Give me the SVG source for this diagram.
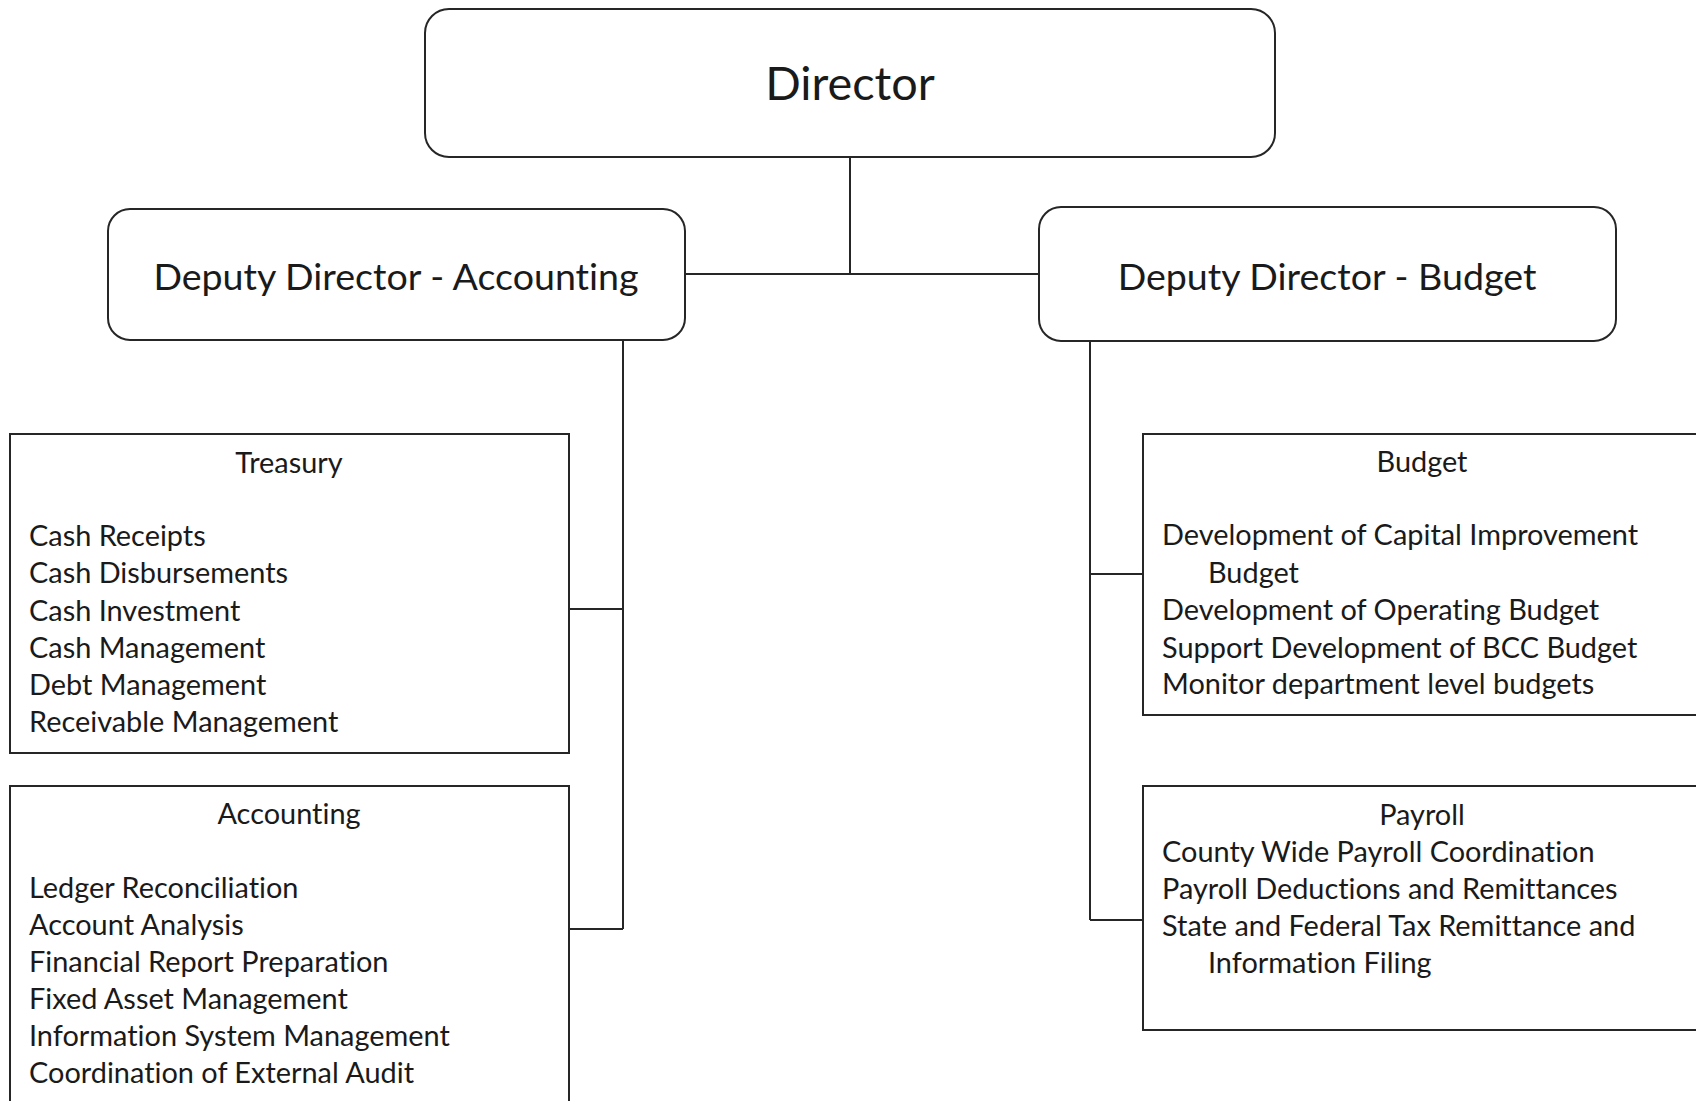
<svg xmlns="http://www.w3.org/2000/svg" width="1696" height="1101" viewBox="0 0 1696 1101">
<style>
.box{fill:#fff;stroke:#262626;stroke-width:2}
.conn line{stroke:#262626;stroke-width:2}
text{font-family:Lato,"Liberation Sans",sans-serif;fill:#1a1a1a;font-variant-ligatures:none;font-feature-settings:"liga" 0}
.body{font-size:28.9px}
.mid{text-anchor:middle}
.dd{font-size:37.6px}
.dir{font-size:46.8px}
</style>
<rect width="1696" height="1101" fill="#fff"/>
<g class="conn" id="connectors">
<line x1="850" y1="157" x2="850" y2="274"/>
<line x1="685" y1="274" x2="1039" y2="274"/>
<line x1="623" y1="340" x2="623" y2="929"/>
<line x1="569" y1="609" x2="623" y2="609"/>
<line x1="569" y1="929" x2="623" y2="929"/>
<line x1="1090" y1="341" x2="1090" y2="920"/>
<line x1="1090" y1="574" x2="1143" y2="574"/>
<line x1="1090" y1="920" x2="1143" y2="920"/>
</g>
<g id="director">
<rect class="box" x="425" y="9" width="850" height="148" rx="24"/>
<text class="dir mid" x="850" y="100">Director</text>
</g>
<g id="dd-accounting">
<rect class="box" x="108" y="209" width="577" height="131" rx="22"/>
<text class="dd mid" x="396" y="290">Deputy Director - Accounting</text>
</g>
<g id="dd-budget">
<rect class="box" x="1039" y="207" width="577" height="134" rx="22"/>
<text class="dd mid" x="1327" y="290">Deputy Director - Budget</text>
</g>
<g id="treasury">
<rect class="box" x="10" y="434" width="559" height="319"/>
<text class="body mid" x="289" y="473">Treasury</text>
<text class="body" x="29" y="546">Cash Receipts</text>
<text class="body" x="29" y="583">Cash Disbursements</text>
<text class="body" x="29" y="621">Cash Investment</text>
<text class="body" x="29" y="658">Cash Management</text>
<text class="body" x="29" y="695">Debt Management</text>
<text class="body" x="29" y="732">Receivable Management</text>
</g>
<g id="accounting">
<rect class="box" x="10" y="786" width="559" height="330"/>
<text class="body mid" x="289" y="824">Accounting</text>
<text class="body" x="29" y="898">Ledger Reconciliation</text>
<text class="body" x="29" y="935">Account Analysis</text>
<text class="body" x="29" y="972">Financial Report Preparation</text>
<text class="body" x="29" y="1009">Fixed Asset Management</text>
<text class="body" x="29" y="1046">Information System Management</text>
<text class="body" x="29" y="1083">Coordination of External Audit</text>
</g>
<g id="budget">
<rect class="box" x="1143" y="434" width="570" height="281"/>
<text class="body mid" x="1422" y="472">Budget</text>
<text class="body" x="1162" y="545">Development of Capital Improvement</text>
<text class="body" x="1208" y="583">Budget</text>
<text class="body" x="1162" y="620">Development of Operating Budget</text>
<text class="body" x="1162" y="658">Support Development of BCC Budget</text>
<text class="body" x="1162" y="694">Monitor department level budgets</text>
</g>
<g id="payroll">
<rect class="box" x="1143" y="786" width="570" height="244"/>
<text class="body mid" x="1422" y="825">Payroll</text>
<text class="body" x="1162" y="862">County Wide Payroll Coordination</text>
<text class="body" x="1162" y="899">Payroll Deductions and Remittances</text>
<text class="body" x="1162" y="936">State and Federal Tax Remittance and</text>
<text class="body" x="1208" y="973">Information Filing</text>
</g>
</svg>
